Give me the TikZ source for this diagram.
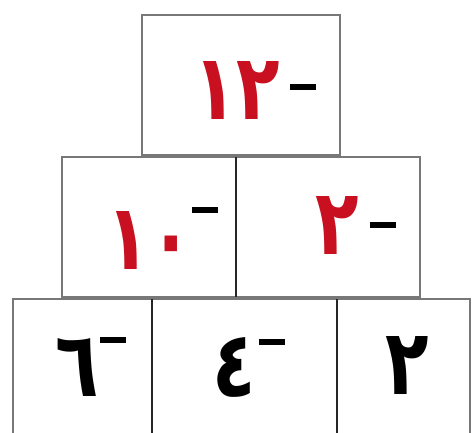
\documentclass[tikz,border=0pt]{standalone}
\usepackage{fontspec}
\usepackage{xcolor}
\usepackage{graphicx}
\newfontfamily\arabicfont[Script=Arabic]{DejaVu Sans}
\definecolor{numred}{RGB}{200,16,32}
\definecolor{cellgray}{RGB}{120,120,120}
% narrower digits, as in the hand-made sheet
\newcommand{\narrow}[1]{\scalebox{0.78}[1]{#1}}
\begin{document}
\begin{tikzpicture}[x=0.02cm, y=0.02cm, cell/.style={draw=cellgray, line width=0.9pt}, split/.style={draw=black!85, line width=1.1pt}, digit/.style={inner sep=0pt, anchor=base, font=\arabicfont\bfseries\fontsize{52}{56}\selectfont}, minus/.style={fill=black, inner sep=0pt, minimum width=0.54cm, minimum height=0.11cm}]
\useasboundingbox[fill=white] (0,0) rectangle (474,433);
% rows of the pyramid
\draw[cell] (142,278) rectangle (340,418);
\draw[cell] (62,136) rectangle (420,276);
\draw[split] (236,276) -- (236,136);
\draw[cell] (13,-10) rectangle (470,134);
\draw[split] (152,134) -- (152,-10);
\draw[split] (337,134) -- (337,-10);
% numbers
\node[digit, text=numred] (top) at (237,313) {\narrow{١٢}};
\node[minus] (topm) at (303,346) {};
\node[digit, text=numred] (midl) at (150,163) {\narrow{١٠}};
\node[minus] (midlm) at (205,223) {};
\node[digit, text=numred] (midr) at (337,178) {\narrow{٢}};
\node[minus] (midrm) at (383,208) {};
\node[digit] (botl) at (77,36) {\narrow{٦}};
\node[minus] (botlm) at (113,93) {};
\node[digit] (botm) at (234,36) {\narrow{٤}};
\node[minus] (botmm) at (272,91) {};
\node[digit] (botr) at (407,38) {\narrow{٢}};
\end{tikzpicture}
\end{document}
